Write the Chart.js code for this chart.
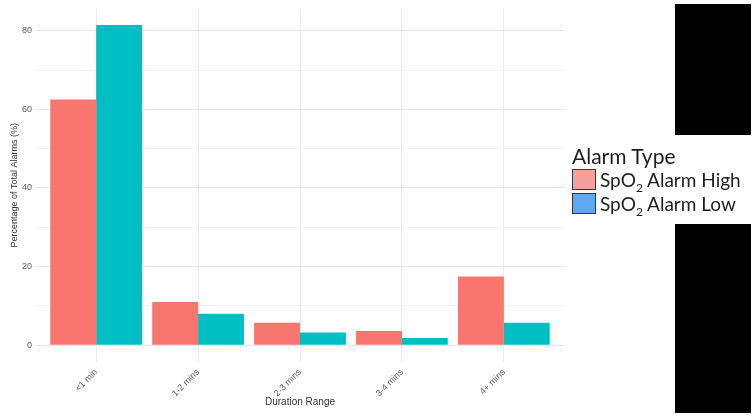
<!DOCTYPE html>
<html>
<head>
<meta charset="utf-8">
<script src="https://cdn.jsdelivr.net/npm/chart.js@4"></script>
<style>
  body { margin: 0; background: #fff; }
  #wrap { position: relative; width: 755px; height: 416px; overflow: hidden; }
  .block { position: absolute; background: #000; }
  #legend { position: absolute; left: 572px; top: 143px; font-family: Lato, "Open Sans", sans-serif; color: #1e1e1e; }
  #legend .title { font-size: 21px; height: 25px; line-height: 25px; }
  #legend .row { height: 24px; line-height: 24px; font-size: 19px; white-space: nowrap; }
  #legend .sw { display: inline-block; width: 24px; height: 21px; box-sizing: border-box; border: 1.5px solid #2d3654; vertical-align: top; margin-top: 1px; margin-right: 4px; }
  #legend sub { font-size: 12px; line-height: 0; }
</style>
</head>
<body>
<div id="wrap">
  <canvas id="alarmChart" width="755" height="416"></canvas>
  <div class="block" style="left:675px; top:4px; width:76px; height:131px;"></div>
  <div class="block" style="left:675px; top:224px; width:76px; height:189px;"></div>
  <div id="legend">
    <div class="title">Alarm Type</div>
    <div class="row"><span class="sw" style="background:#f6a09e"></span>SpO<sub>2</sub> Alarm High</div>
    <div class="row"><span class="sw" style="background:#5ea8f6"></span>SpO<sub>2</sub> Alarm Low</div>
  </div>
</div>
<script>
// Alarm duration data
const categories = ['<1 min', '1-2 mins', '2-3 mins', '3-4 mins', '4+ mins'];
const alarmHigh = [62.5, 11.0, 5.7, 3.6, 17.5];
const alarmLow = [81.5, 8.0, 3.2, 1.8, 5.7];
const yGridValues = [0, 10, 20, 30, 40, 50, 60, 70, 80];
const yTickLabels = [0, 20, 40, 60, 80];

const ctx = document.getElementById('alarmChart').getContext('2d');
new Chart(ctx, {
  type: 'bar',
  data: {
    labels: categories,
    datasets: [
      { label: 'SpO2 Alarm High', data: alarmHigh, backgroundColor: '#F8766D', borderWidth: 0 },
      { label: 'SpO2 Alarm Low', data: alarmLow, backgroundColor: '#00BFC4', borderWidth: 0 }
    ]
  },
  options: {
    responsive: false,
    animation: false,
    categoryPercentage: 0.9,
    barPercentage: 1,
    layout: { padding: { top: 8, right: 190, left: 0, bottom: 0 } },
    plugins: { legend: { display: false }, tooltip: { enabled: false } },
    scales: {
      x: {
        grid: { offset: false, color: '#ebebeb', drawTicks: false },
        border: { display: false },
        ticks: {
          minRotation: 45, maxRotation: 45, padding: 5,
          color: '#5a5a5a', font: { family: 'Liberation Sans', size: 9 }
        },
        title: {
          display: true, text: 'Duration Range', color: '#333',
          font: { family: 'Liberation Sans', size: 10 }, padding: { top: 0, bottom: 8 }
        },
        // ggplot style: 0.6 category of space at each end
        afterBuildTicks: (scale) => {
          scale._startValue = scale.min - 0.6;
          scale._valueRange = (scale.max - scale.min) + 1.2;
        },
        afterFit: (scale) => { scale.height = 54; }
      },
      y: {
        min: -4.28,
        max: 85.7,
        grid: {
          drawTicks: false,
          color: (c) => (c.tick && yTickLabels.includes(c.tick.value)) ? '#e6e6e6' : '#f3f3f3'
        },
        border: { display: false },
        afterBuildTicks: (scale) => {
          scale.ticks = yGridValues.map(v => ({ value: v }));
        },
        ticks: {
          padding: 3,
          color: '#5a5a5a', font: { family: 'Liberation Sans', size: 9 },
          callback: (v) => yTickLabels.includes(v) ? v : ''
        },
        title: {
          display: true, text: 'Percentage of Total Alarms (%)', color: '#333',
          font: { family: 'Liberation Sans', size: 9 }, padding: { top: 9, bottom: 0 }
        },
        afterFit: (scale) => { scale.width = 35; }
      }
    }
  }
});
</script>
</body>
</html>
